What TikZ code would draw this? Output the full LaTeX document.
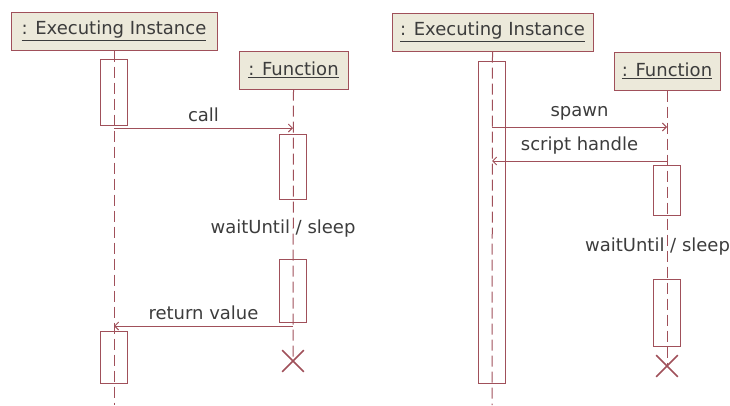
\documentclass[tikz,border=0pt]{standalone}
\usepackage{fontspec}
\setmainfont{DejaVu Sans}
\usetikzlibrary{arrows.meta,shapes.misc}
\definecolor{edge}{HTML}{A0505A}
\definecolor{fillc}{HTML}{ECE9DA}
\definecolor{txt}{HTML}{3C3C3C}
\begin{document}
\begin{tikzpicture}[x=1pt,y=-1pt,
 actor/.style={draw=edge, fill=fillc, line width=1pt, inner sep=0pt, font=\fontsize{18}{21}\selectfont, text=txt, minimum height=38pt},
 act/.style={draw=edge, line width=0.9pt, inner sep=0pt, minimum width=27pt},
 life/.style={draw=edge, line width=1pt, dash pattern=on 11pt off 5pt},
 msg/.style={draw=edge, line width=0.9pt, -{Straight Barb[length=4pt,width=8pt]}},
 lbl/.style={font=\fontsize{18}{21}\selectfont, text=txt, inner sep=0pt},
 kill/.style={draw=edge, line width=1.6pt, cross out, minimum size=20pt, inner sep=0pt}]
\useasboundingbox (0,0) rectangle (730,405);
% ---------- left diagram ----------
\node[actor, minimum width=206pt] (e1) at (114,31) {\underline{: Executing Instance}};
\node[actor, minimum width=109pt] (f1) at (293.5,70) {\underline{: Function}};
\node[act, minimum height=66pt] (a11) at (114,92) {};
\node[act, minimum height=65pt] (a12) at (293,166.5) {};
\node[act, minimum height=63pt] (a13) at (293,290.5) {};
\node[act, minimum height=52pt] (a14) at (114,357) {};
\node[kill] (x1) at (293,361) {};
\coordinate (e1end) at (114,405);
\draw[life] (e1.south) -- (e1end);
\draw[life] (f1.south) -- (x1.center);
\coordinate (c1s) at (114,128);
\coordinate (c1e) at (293,128);
\draw[msg] (c1s) -- node[lbl, above=6pt] {call} (c1e);
\coordinate (r1s) at (293,326);
\coordinate (r1e) at (114,326);
\draw[msg] (r1s) -- node[lbl, above=6pt] {return value} (r1e);
\node[lbl] (w1) at (283,229) {waitUntil / sleep};
% ---------- right diagram ----------
\node[actor, minimum width=201pt] (e2) at (492.5,32) {\underline{: Executing Instance}};
\node[actor, minimum width=106pt] (f2) at (667,71) {\underline{: Function}};
\node[act, minimum height=322pt] (a21) at (492,222) {};
\node[act, minimum height=50pt] (a22) at (667,190) {};
\node[act, minimum height=67pt] (a23) at (667,312.5) {};
\node[kill] (x2) at (667,366) {};
\coordinate (e2end) at (492,405);
\draw[life] (e2.south) -- (e2end);
\draw[life] (f2.south) -- (x2.center);
\coordinate (s2s) at (492,127);
\coordinate (s2e) at (667,127);
\draw[msg] (s2s) -- node[lbl, above=6pt] {spawn} (s2e);
\coordinate (h2s) at (667,161);
\coordinate (h2e) at (492,161);
\draw[msg] (h2s) -- node[lbl, above=6pt] {script handle} (h2e);
\node[lbl] (w2) at (657.5,247) {waitUntil / sleep};
\end{tikzpicture}
\end{document}
